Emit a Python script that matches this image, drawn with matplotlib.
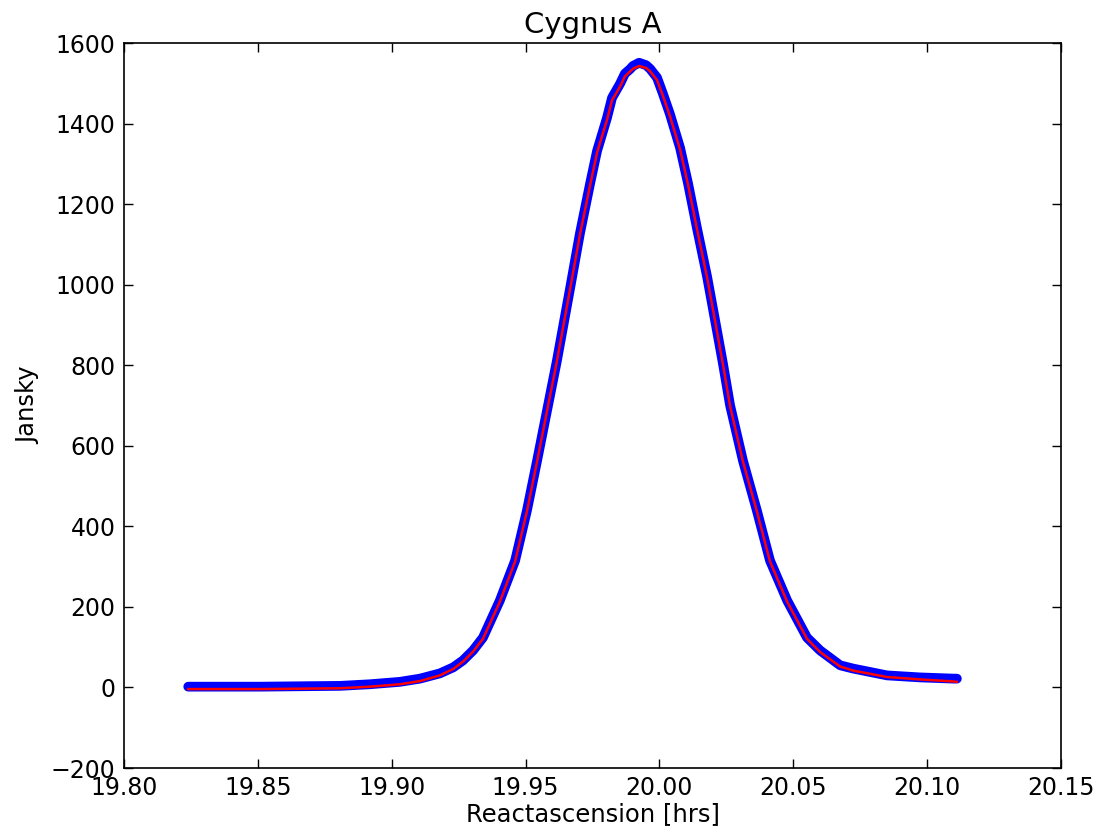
import matplotlib
matplotlib.use('Agg')
import matplotlib.pyplot as plt
from matplotlib.ticker import FormatStrFormatter, MultipleLocator

ra_data = [19.8240, 19.8359, 19.8508, 19.8657, 19.8807, 19.8919, 19.9031, 19.9106,
           19.9180, 19.9230, 19.9266, 19.9304, 19.9341, 19.9404, 19.9461, 19.9505,
           19.9543, 19.9580, 19.9617, 19.9666, 19.9703, 19.9741, 19.9767, 19.9804,
           19.9823, 19.9853, 19.9871, 19.9890, 19.9901, 19.9924, 19.9950, 19.9965,
           19.9991, 20.0013, 20.0039, 20.0077, 20.0107, 20.0140, 20.0178, 20.0211,
           20.0237, 20.0264, 20.0312, 20.0364, 20.0413, 20.0477, 20.0551, 20.0600,
           20.0675, 20.0723, 20.0850, 20.0973, 20.1097, 20.1111]
jy_data = [2, 2, 2, 3, 4, 8, 14, 22,
           35, 50, 67, 92, 124, 216, 315, 439,
           563, 687, 811, 990, 1127, 1251, 1332, 1414,
           1464, 1499, 1524, 1535, 1543, 1551, 1545, 1536,
           1514, 1474, 1424, 1340, 1251, 1141, 1020, 900,
           805, 700, 563, 439, 315, 216, 124, 92,
           55, 47, 30, 25, 22, 22]

ra_fit = ra_data
jy_fit = [-4, -4, -4, -3, -2, 2, 8, 16,
          30, 46, 64, 89, 121, 213, 313, 437,
          561, 686, 810, 988, 1124, 1247, 1328, 1409,
          1458, 1492, 1517, 1529, 1536, 1543, 1538, 1530,
          1508, 1469, 1419, 1336, 1248, 1139, 1018, 898,
          803, 698, 561, 437, 313, 213, 121, 88,
          52, 42, 26, 20, 15, 14]

fig = plt.figure(figsize=(11.01, 8.35), dpi=100)
ax = fig.add_axes([0.1126, 0.0802, 0.8511, 0.8683])

ax.plot(ra_data, jy_data, color='b', lw=7, solid_capstyle='round',
        solid_joinstyle='round')
ax.plot(ra_fit, jy_fit, color='r', lw=1.8)

ax.set_xlim(19.80, 20.15)
ax.set_ylim(-200, 1600)
ax.xaxis.set_major_locator(MultipleLocator(0.05))
ax.xaxis.set_major_formatter(FormatStrFormatter('%.2f'))
ax.yaxis.set_major_locator(MultipleLocator(200))
ax.tick_params(direction='in', top=True, right=True, length=6.5, width=1,
               labelsize=17, pad=6)
for s in ax.spines.values():
    s.set_linewidth(1.2)

ax.set_title('Cygnus A', fontsize=21, pad=7)
ax.set_xlabel('Reactascension [hrs]', fontsize=17.5, labelpad=1)
ax.set_ylabel('Jansky', fontsize=17.5, labelpad=8)

fig.savefig('out.png', dpi=100)
